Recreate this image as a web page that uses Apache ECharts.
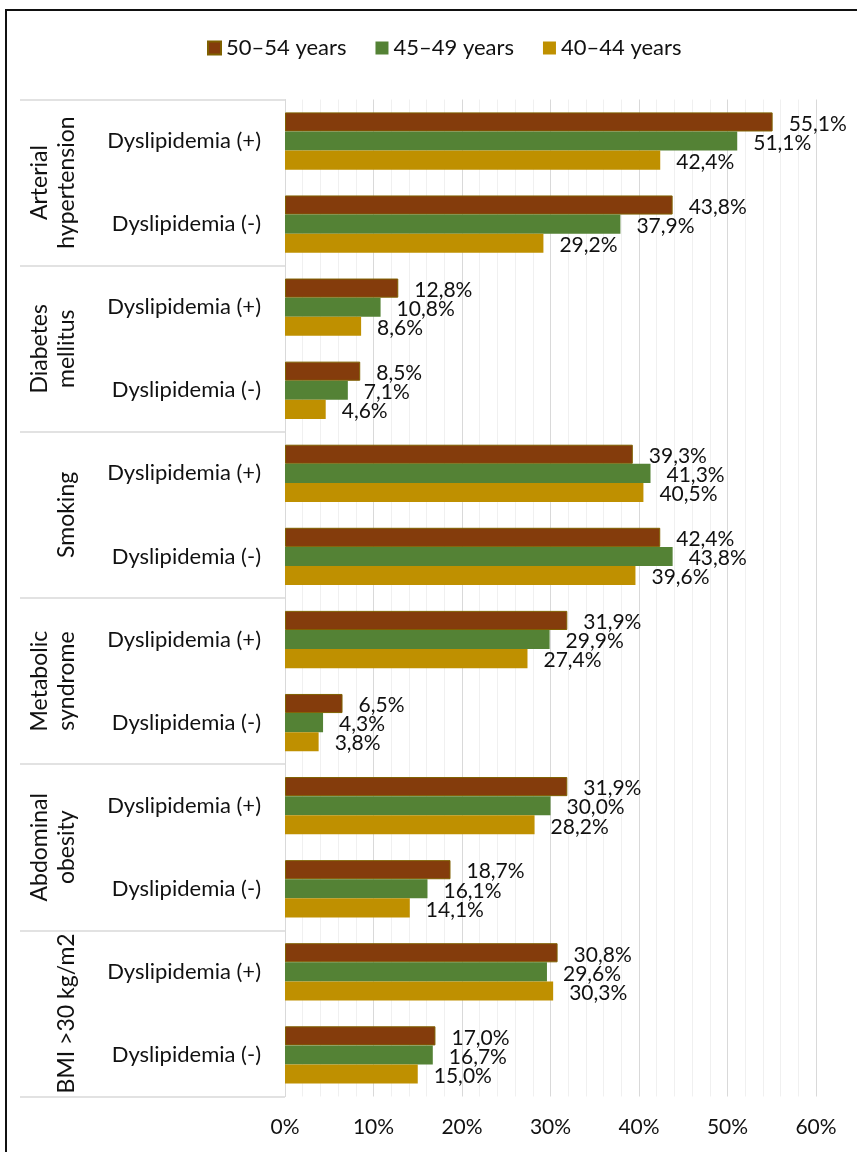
<!DOCTYPE html>
<html>
<head>
<meta charset="utf-8">
<script src="https://cdn.jsdelivr.net/npm/echarts@6/dist/echarts.min.js"></script>
<style>
  html, body { margin: 0; padding: 0; background: #fff; }
  #chart { width: 857px; height: 1152px; }
</style>
</head>
<body>
<div id="chart"></div>
<script>
// Prevalence of risk factors by dyslipidemia status and age group (%)
const groups = ['Arterial\nhypertension', 'Diabetes\nmellitus', 'Smoking', 'Metabolic\nsyndrome', 'Abdominal\nobesity', 'BMI >30 kg/m2'];
const subCategories = [
  'Dyslipidemia (+)', 'Dyslipidemia (-)',
  'Dyslipidemia (+)', 'Dyslipidemia (-)',
  'Dyslipidemia (+)', 'Dyslipidemia (-)',
  'Dyslipidemia (+)', 'Dyslipidemia (-)',
  'Dyslipidemia (+)', 'Dyslipidemia (-)',
  'Dyslipidemia (+)', 'Dyslipidemia (-)'
];
const seriesNames = ['50–54 years', '45–49 years', '40–44 years'];
const age50to54 = [55.1, 43.8, 12.8, 8.5, 39.3, 42.4, 31.9, 6.5, 31.9, 18.7, 30.8, 17.0];
const age45to49 = [51.1, 37.9, 10.8, 7.1, 41.3, 43.8, 29.9, 4.3, 30.0, 16.1, 29.6, 16.7];
const age40to44 = [42.4, 29.2, 8.6, 4.6, 40.5, 39.6, 27.4, 3.8, 28.2, 14.1, 30.3, 15.0];
const xTicks = [0, 10, 20, 30, 40, 50, 60];

const FONT = 'Lato';
const TEXT = '#111';
const colors = ['#843C0C', '#548235', '#BF9000'];
const seriesData = [age50to54, age45to49, age40to44];

const chart = echarts.init(document.getElementById('chart'), null, { renderer: 'canvas' });

const fmtPct = v => v.toFixed(1).replace('.', ',') + '%';

const option = {
  animation: false,
  backgroundColor: '#fff',
  textStyle: { fontFamily: FONT, color: TEXT },
  color: colors,
  legend: {
    top: 32,
    left: 202,
    itemWidth: 13,
    itemHeight: 13,
    itemGap: 29,
    icon: 'rect',
    textStyle: { fontFamily: FONT, fontSize: 22, color: TEXT, padding: [0, 0, 0, 0] },
    data: seriesNames
  },
  grid: { left: 285, right: 41, top: 99.5, bottom: 55.5, containLabel: false },
  xAxis: {
    type: 'value',
    min: xTicks[0],
    max: xTicks[xTicks.length - 1],
    interval: 10,
    axisLine: { show: false },
    axisTick: { show: false },
    axisLabel: {
      fontFamily: FONT, fontSize: 21, color: TEXT, margin: 20,
      formatter: v => v + '%'
    },
    splitLine: { show: true, lineStyle: { color: '#d9d9d9', width: 1 } },
    minorTick: { show: false, splitNumber: 5 },
    minorSplitLine: { show: true, lineStyle: { color: '#f0f0f0', width: 1 } }
  },
  yAxis: [
    {
      type: 'category',
      inverse: true,
      data: subCategories,
      axisLine: { show: true, lineStyle: { color: '#d9d9d9', width: 1 } },
      axisTick: { show: false },
      axisLabel: { fontFamily: FONT, fontSize: 22, color: TEXT, margin: 24, interval: 0 },
      splitLine: { show: false }
    },
    {
      type: 'category',
      inverse: true,
      position: 'left',
      offset: 0,
      data: groups,
      axisLine: { show: false },
      axisTick: { show: true, interval: 0, length: 265, lineStyle: { color: '#d9d9d9', width: 1.5 } },
      axisLabel: {
        fontFamily: FONT, fontSize: 23, color: TEXT, lineHeight: 27,
        rotate: 90, margin: 205, align: 'center', interval: 0
      },
      splitLine: { show: false }
    }
  ],
  series: seriesNames.map((name, i) => ({
    name,
    type: 'bar',
    yAxisIndex: 0,
    data: seriesData[i],
    barGap: '0%',
    barCategoryGap: '31%',
    itemStyle: i === 0
      ? { color: colors[i], borderColor: '#7F6000', borderWidth: 1 }
      : { color: colors[i] },
    label: {
      show: true,
      position: 'right',
      distance: 16,
      offset: [0, 2],
      fontFamily: FONT,
      fontSize: 21,
      color: TEXT,
      formatter: p => fmtPct(p.value)
    }
  })),
  graphic: [
    {
      type: 'rect',
      silent: true,
      z: 100,
      shape: { x: 6, y: 10, width: 900, height: 1200 },
      style: { fill: null, stroke: '#111', lineWidth: 2 }
    }
  ]
};

chart.setOption(option);
</script>
</body>
</html>
